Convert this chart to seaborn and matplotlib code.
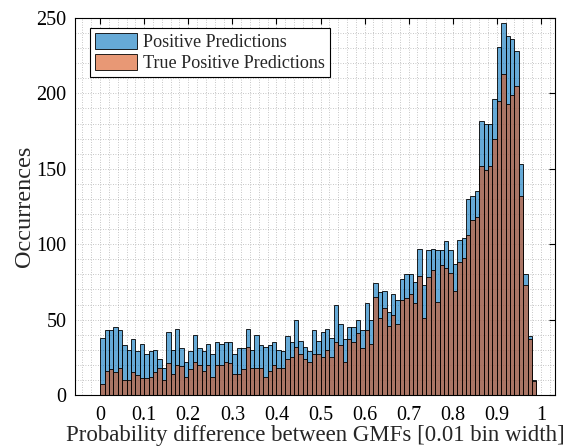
import numpy as np
import pandas as pd
import matplotlib
matplotlib.use("Agg")
import matplotlib.pyplot as plt
import seaborn as sns
from matplotlib.patches import Patch
from matplotlib.ticker import MultipleLocator, FixedLocator
from matplotlib.colors import to_rgba

# ---- data (counts per 0.01-wide bin, bins 0.00 .. 0.99) ----
bin_left = np.round(np.arange(0, 1.0, 0.01), 2)
positive = [38, 43, 43, 45, 43, 33, 30, 37, 29, 34,
            27, 29, 30, 24, 18, 42, 30, 44, 31, 22,
            29, 40, 31, 29, 34, 27, 35, 34, 35, 35,
            27, 31, 31, 44, 30, 40, 33, 32, 33, 35,
            30, 29, 39, 35, 50, 36, 32, 29, 43, 36,
            42, 44, 38, 60, 47, 37, 45, 45, 50, 43,
            61, 50, 74, 68, 69, 55, 67, 63, 77, 80,
            80, 75, 97, 73, 96, 97, 96, 96, 102, 96,
            87, 103, 104, 130, 132, 135, 182, 180, 180, 196,
            231, 247, 238, 236, 228, 153, 80, 39, 10, 0]
true_positive = [7, 16, 17, 15, 18, 10, 10, 15, 13, 11,
                 11, 12, 15, 18, 10, 21, 14, 20, 19, 12,
                 17, 22, 20, 16, 20, 12, 20, 20, 22, 21,
                 14, 14, 17, 32, 18, 18, 18, 12, 16, 20,
                 18, 18, 24, 25, 32, 27, 24, 22, 27, 27,
                 25, 30, 25, 35, 33, 22, 37, 35, 41, 31,
                 43, 34, 65, 51, 58, 46, 53, 47, 63, 64,
                 67, 61, 79, 51, 78, 83, 62, 86, 84, 81,
                 69, 88, 91, 106, 116, 118, 152, 149, 152, 170,
                 195, 213, 193, 199, 205, 132, 73, 37, 9, 0]
series_labels = ["Positive Predictions", "True Positive Predictions"]
x_ticks = [0, 0.1, 0.2, 0.3, 0.4, 0.5, 0.6, 0.7, 0.8, 0.9, 1]
x_tick_labels = ["0", "0.1", "0.2", "0.3", "0.4", "0.5", "0.6", "0.7", "0.8", "0.9", "1"]
y_ticks = [0, 50, 100, 150, 200, 250]

blue = (0.0, 0.447, 0.741)
orange = (0.850, 0.325, 0.098)
alpha = 0.6

sns.set_theme(style="white")
plt.rcParams['font.family'] = ['Liberation Serif', 'DejaVu Serif']
plt.rcParams['mathtext.fontset'] = 'stix'

W, H = 569, 448
fig = plt.figure(figsize=(W / 100, H / 100), dpi=100)
left, right, top, bottom = 75, 555, 18, 395
ax = fig.add_axes([left / W, 1 - bottom / H, (right - left) / W, (bottom - top) / H])

df = pd.DataFrame({"x": bin_left + 0.005, "pos": positive, "tp": true_positive})
edges = [round(0.01 * i, 2) for i in range(101)]

sns.histplot(data=df, x="x", weights="pos", bins=edges, color=blue, alpha=alpha,
             edgecolor="black", linewidth=0.6, ax=ax)
sns.histplot(data=df, x="x", weights="tp", bins=edges, color=orange, alpha=alpha,
             edgecolor="black", linewidth=0.6, ax=ax)

ax.set_xlim(-0.057, 1.032)
ax.set_ylim(0, 250)
ax.xaxis.set_major_locator(FixedLocator(x_ticks))
ax.set_xticklabels(x_tick_labels)
ax.yaxis.set_major_locator(FixedLocator(y_ticks))
ax.xaxis.set_minor_locator(MultipleLocator(0.02))
ax.yaxis.set_minor_locator(MultipleLocator(10))

ax.grid(True, which="major", color="#9a9a9a", linestyle=(0, (1, 2)), linewidth=0.6, alpha=0.75)
ax.grid(True, which="minor", color="#9a9a9a", linestyle=(0, (1, 2)), linewidth=0.6, alpha=0.75)
ax.set_axisbelow(True)

for s in ax.spines.values():
    s.set_visible(True)
    s.set_color("black")
    s.set_linewidth(0.8)

ax.tick_params(which="major", direction="in", length=4, width=0.8, colors="black",
               top=True, right=True, labelsize=14.5, pad=6)
ax.tick_params(which="minor", length=0, top=False, right=False)
ax.tick_params(axis="x", pad=8)

ax.set_xlabel("Probability difference between GMFs [0.01 bin width]", fontsize=16.5, labelpad=0)
ax.set_ylabel("Occurrences", fontsize=17.5, labelpad=1)

handles = [Patch(facecolor=to_rgba(blue, alpha), edgecolor="black", linewidth=0.6),
           Patch(facecolor=to_rgba(orange, alpha), edgecolor="black", linewidth=0.6)]
leg = ax.legend(handles, series_labels, loc="upper left",
                bbox_to_anchor=(0.031, 0.973), borderaxespad=0, fontsize=13.1,
                frameon=True, fancybox=False, framealpha=1, edgecolor="black",
                handlelength=2.3, handleheight=0.95, handletextpad=0.35,
                labelspacing=0.15, borderpad=0.28)
leg.get_frame().set_linewidth(0.8)

fig.savefig("out.png", dpi=100)
